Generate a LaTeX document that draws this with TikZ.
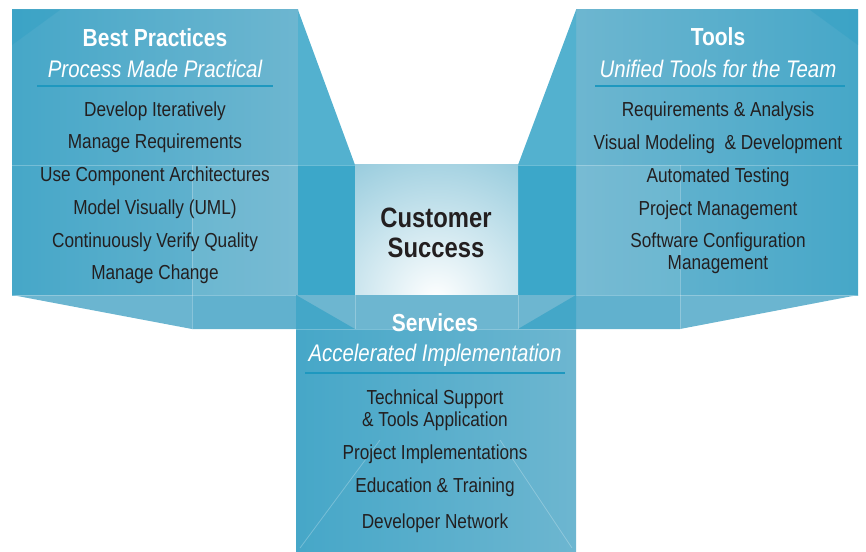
\documentclass[tikz,border=0pt]{standalone}
\usepackage{fontspec}
\setmainfont{Liberation Sans}[FakeStretch=0.85]
\definecolor{panel}{HTML}{5AADC9}
\definecolor{panellt}{HTML}{6DB6D0}
\definecolor{paneldk}{HTML}{46A7C8}
\definecolor{flap}{HTML}{3CA7C9}
\definecolor{flapdk}{HTML}{2A9DC3}
\definecolor{rulec}{HTML}{1E98BF}
\definecolor{ink}{HTML}{231F20}
\begin{document}
\begin{tikzpicture}[x=0.75pt,y=-0.75pt,
  titletext/.style={text=white,font=\bfseries\fontsize{18.5}{20}\selectfont,inner sep=0},
  subtext/.style={text=white,font=\itshape\fontsize{18}{20}\selectfont,inner sep=0},
  itemtext/.style={text=ink,font=\fontsize{15.2}{16.8}\selectfont,inner sep=0,align=center},
  bigtext/.style={text=ink,font=\bfseries\fontsize{21}{22.5}\selectfont,inner sep=0,align=center},
  ruleline/.style={draw=rulec,line width=1.8pt},
  faint/.style={draw=white,draw opacity=0.25,line width=0.6pt}]
\useasboundingbox (0,0) rectangle (866,552);

% ---------- left panel ----------
\shade[left color=paneldk,right color=panellt] (12,10) rectangle (298,295);
\fill[flapdk,opacity=0.35] (12,10) -- (60,10) -- (12,45) -- cycle;
\fill[white,opacity=0.08] (192,165) rectangle (298,295);
\fill[flap] (298,10) -- (355,165) -- (355,295) -- (298,295) -- cycle;
\fill[white,opacity=0.12] (298,10) -- (355,165) -- (298,165) -- cycle;
\fill[panellt!95!flap] (12,295) -- (192,329) -- (298,329) -- (298,295) -- cycle;
\fill[flapdk,opacity=0.15] (192,295) -- (192,329) -- (298,329) -- (298,295) -- cycle;
\draw[faint] (12,165) -- (355,165);
\draw[faint] (192,165) -- (192,329);
\draw[faint] (12,295) -- (298,295);

% ---------- right panel ----------
\shade[left color=panellt,right color=paneldk] (576,10) rectangle (858,295);
\fill[flapdk,opacity=0.35] (858,10) -- (810,10) -- (858,45) -- cycle;
\fill[white,opacity=0.08] (576,165) rectangle (680,295);
\fill[flap] (576,10) -- (518,165) -- (518,295) -- (576,295) -- cycle;
\fill[white,opacity=0.12] (576,10) -- (518,165) -- (576,165) -- cycle;
\fill[panellt!95!flap] (576,295) -- (576,329) -- (680,329) -- (858,295) -- cycle;
\fill[flapdk,opacity=0.15] (576,295) -- (576,329) -- (680,329) -- (680,295) -- cycle;
\draw[faint] (518,165) -- (858,165);
\draw[faint] (680,165) -- (680,329);
\draw[faint] (576,295) -- (858,295);

% ---------- centre ----------
\begin{scope}
  \clip (355,165) rectangle (518,295);
  \fill[panel!90!white] (355,165) rectangle (518,295);
  \shade[inner color=white,outer color=panel!90!white] (436,300) circle (230);
\end{scope}

% ---------- services panel ----------
\shade[left color=paneldk,right color=panellt] (296,295) rectangle (576,552);
\fill[panellt] (296,295) rectangle (576,329);
\fill[flapdk,opacity=0.6] (296,295) -- (355,329) -- (296,329) -- cycle;
\fill[flapdk,opacity=0.6] (576,295) -- (576,329) -- (518,329) -- cycle;
\draw[faint] (355,295) -- (355,329);
\draw[faint] (518,295) -- (518,329);
\draw[faint] (296,329) -- (576,329);
\draw[faint] (300,548) -- (380,440);
\draw[faint] (572,548) -- (500,440);

% ---------- texts: left ----------
\node[titletext] (bpT) at (155,38) {Best Practices};
\node[subtext] (bpS) at (155,69) {Process Made Practical};
\coordinate (bpRa) at (37,86);
\coordinate (bpRb) at (273,86);
\draw[ruleline] (bpRa) -- (bpRb);
\node[itemtext] (bp1) at (155,111) {Develop Iteratively};
\node[itemtext] (bp2) at (155,143) {Manage Requirements};
\node[itemtext] (bp3) at (155,176) {Use Component Architectures};
\node[itemtext] (bp4) at (155,209) {Model Visually (UML)};
\node[itemtext] (bp5) at (155,242) {Continuously Verify Quality};
\node[itemtext] (bp6) at (155,274) {Manage Change};

% ---------- texts: right ----------
\node[titletext] (tT) at (718,37) {Tools};
\node[subtext] (tS) at (718,69) {Unified Tools for the Team};
\coordinate (tRa) at (595,86);
\coordinate (tRb) at (845,86);
\draw[ruleline] (tRa) -- (tRb);
\node[itemtext] (t1) at (718,111) {Requirements \& Analysis};
\node[itemtext] (t2) at (718,144) {Visual Modeling\ \ \& Development};
\node[itemtext] (t3) at (718,177) {Automated Testing};
\node[itemtext] (t4) at (718,210) {Project Management};
\node[itemtext] (t5) at (718,253) {Software Configuration\\Management};

% ---------- texts: centre ----------
\node[bigtext] (cs) at (436,233) {Customer\\Success};

% ---------- texts: services ----------
\node[titletext] (sT) at (435,323) {Services};
\node[subtext] (sS) at (435,355) {Accelerated Implementation};
\coordinate (sRa) at (305,373);
\coordinate (sRb) at (565,373);
\draw[ruleline] (sRa) -- (sRb);
\node[itemtext] (s1) at (435,410) {Technical Support\\\& Tools Application};
\node[itemtext] (s2) at (435,454) {Project Implementations};
\node[itemtext] (s3) at (435,487) {Education \& Training};
\node[itemtext] (s4) at (435,523) {Developer Network};
\end{tikzpicture}
\end{document}
